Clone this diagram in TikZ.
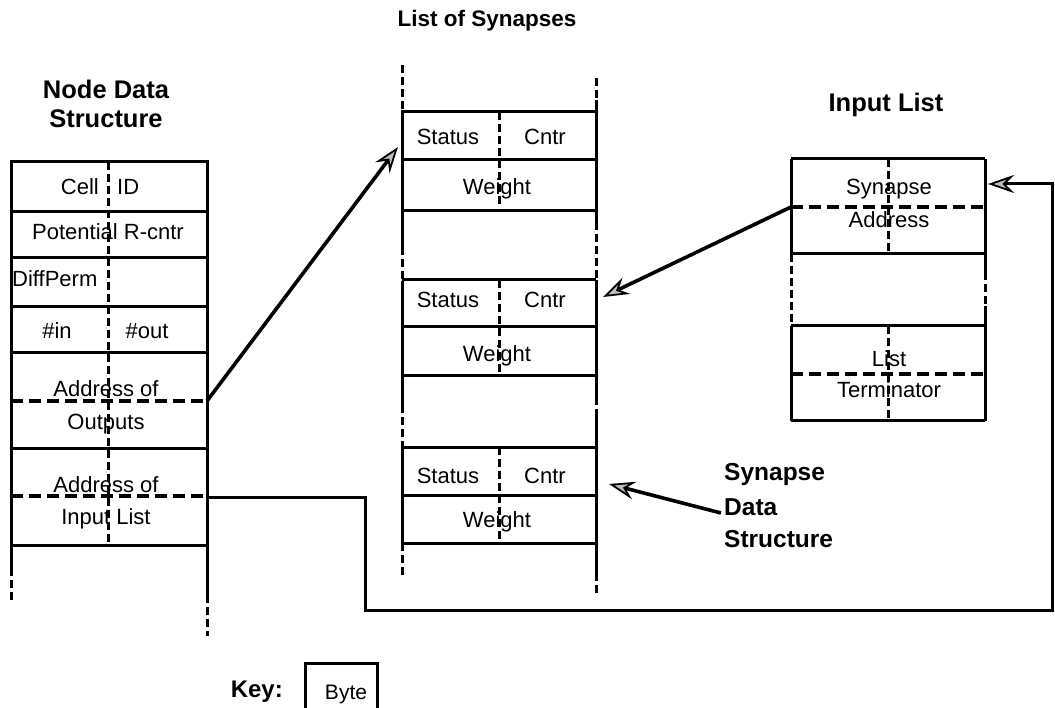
\documentclass[tikz,border=0pt]{standalone}
\usepackage{fontspec}
\usetikzlibrary{arrows.meta}
\newfontfamily\lsans{Liberation Sans}
\newcommand\lbfont{\lsans\fontsize{22}{26}\selectfont}
\newcommand\bytefont{\lsans\fontsize{21}{25}\selectfont}
\newcommand\ttfont{\lsans\bfseries\fontsize{25.5}{30}\selectfont}
\newcommand\ttsmall{\lsans\bfseries\fontsize{22.5}{27}\selectfont}
\newcommand\sdsfont{\lsans\bfseries\fontsize{24.5}{29}\selectfont}
\tikzset{
  box/.style={line width=3pt},
  hdash/.style={line width=3.2pt, dash pattern=on 12pt off 6pt},
  vdash/.style={line width=3pt, dash pattern=on 8pt off 4pt},
  lbl/.style={font=\lbfont, inner sep=0pt, anchor=base},
  ttl/.style={font=\ttfont, inner sep=0pt, anchor=base},
  gtip/.style={-{Stealth[length=26pt,width=18pt,inset=9pt,fill=gray!50,line width=1.8pt]}},
  arr/.style={line width=3.6pt, gtip},
}
\begin{document}
\begin{tikzpicture}[x=1pt,y=-1pt]
\useasboundingbox (0,0) rectangle (1055,708);

% ---------- titles ----------
\node[ttl] (tNode1) at (106,99) {Node Data};
\node[ttl] (tNode2) at (106,128) {Structure};
\node[ttl,font=\ttsmall] (tSyn) at (487,27) {List of Synapses};
\node[ttl] (tIn) at (886,112) {Input List};
\node[ttl,anchor=base west,font=\sdsfont] (sds1) at (724,480) {Synapse};
\node[ttl,anchor=base west,font=\sdsfont] (sds2) at (724,515) {Data};
\node[ttl,anchor=base west,font=\sdsfont] (sds3) at (724,547) {Structure};

% ---------- node data structure ----------
\draw[box] (11,162) rectangle (207,545);
\foreach \yy in {212,258,307,353,448} \draw[box] (11,\yy) -- (207,\yy);
\draw[hdash] (11,401) -- (207,401);
\draw[hdash] (11,496) -- (207,496);
\draw[vdash] (108,162) -- (108,545);
\draw[box] (11,545) -- (11,568);
\draw[vdash] (11,568) -- (11,602);
\draw[box] (207,545) -- (207,595);
\draw[vdash] (207,595) -- (207,636);

\node[lbl,anchor=base east] (cell) at (99,195) {Cell};
\node[lbl,anchor=base west] (cid) at (117,195) {ID};
\node[lbl] (pot) at (108,240) {Potential R-cntr};
\node[lbl,anchor=base west] (diff) at (12,287) {DiffPerm};
\node[lbl] (nin) at (57,339) {\#in};
\node[lbl] (nout) at (147,339) {\#out};
\node[lbl] (ao1) at (106,397) {Address of};
\node[lbl] (ao2) at (106,430) {Outputs};
\node[lbl] (ai1) at (106,492) {Address of};
\node[lbl] (ai2) at (106,524) {Input List};

\coordinate (outAddr) at (207,401);
\coordinate (inAddr) at (207,497);

% ---------- list of synapses ----------
\foreach \yy in {112,160,211,280,327,376,447,495,543} \draw[box] (402,\yy) -- (596,\yy);
% left side
\draw[vdash] (402,65) -- (402,110);
\draw[box] (402,110) -- (402,247);
\draw[vdash] (402,247) -- (402,281);
\draw[box] (402,281) -- (402,405);
\draw[vdash] (402,405) -- (402,447);
\draw[box] (402,447) -- (402,543);
\draw[vdash] (402,543) -- (402,578);
% right side
\draw[vdash] (596,78) -- (596,100);
\draw[box] (596,100) -- (596,222);
\draw[vdash] (596,222) -- (596,280);
\draw[box] (596,280) -- (596,397);
\draw[vdash] (596,397) -- (596,414);
\draw[box] (596,414) -- (596,573);
\draw[vdash] (596,573) -- (596,594);
% dividers
\draw[vdash] (499,112) -- (499,206);
\draw[vdash] (499,280) -- (499,372);
\draw[vdash] (499,447) -- (499,539);

\node[lbl] (st1) at (448,145) {Status};
\node[lbl] (cn1) at (545,145) {Cntr};
\node[lbl] (w1) at (497,195) {Weight};
\node[lbl] (st2) at (448,308) {Status};
\node[lbl] (cn2) at (545,308) {Cntr};
\node[lbl] (w2) at (497,362) {Weight};
\node[lbl] (st3) at (448,483) {Status};
\node[lbl] (cn3) at (545,483) {Cntr};
\node[lbl] (w3) at (497,527) {Weight};

\coordinate (syn1) at (398,147);
\coordinate (syn2) at (603,297);
\coordinate (syn3) at (609,484);

% ---------- input list ----------
\draw[box] (791,159) -- (985,159);
\draw[box] (791,254) -- (985,254);
\draw[box] (791,326) -- (985,326);
\draw[box] (791,421) -- (985,421);
\draw[box] (791,159) -- (791,254);
\draw[vdash] (791,254) -- (791,326);
\draw[box] (791,326) -- (791,421);
\draw[box] (985,159) -- (985,272);
\draw[vdash] (985,272) -- (985,306);
\draw[box] (985,306) -- (985,421);
\draw[hdash] (791,207) -- (985,207);
\draw[hdash] (791,374) -- (985,374);
\draw[vdash] (888,159) -- (888,254);
\draw[vdash] (888,326) -- (888,421);

\node[lbl] (sa1) at (889,195) {Synapse};
\node[lbl] (sa2) at (889,228) {Address};
\node[lbl] (lt1) at (889,367) {List};
\node[lbl] (lt2) at (889,398) {Terminator};

\coordinate (synAddr) at (791,207);
\coordinate (inTop) at (988,184);

% ---------- connectors ----------
\draw[arr] (outAddr) -- (syn1);
\draw[arr] (synAddr) -- (syn2);
\coordinate (sdsStart) at (721,513);
\draw[arr] (sdsStart) -- (syn3);
\coordinate (r1) at (365,497);
\coordinate (r2) at (365,610);
\coordinate (r3) at (1052,610);
\coordinate (r4) at (1052,184);
\draw[line width=3pt, gtip]
  (inAddr) -- (r1) -- (r2) -- (r3) -- (r4) -- (inTop);

% ---------- key ----------
\node[ttl,anchor=base east,font=\lsans\bfseries\fontsize{24}{28}\selectfont] (key) at (283,697) {Key:};
\coordinate (k1) at (305,708);
\coordinate (k2) at (305,663);
\coordinate (k3) at (377,663);
\coordinate (k4) at (377,708);
\draw[box] (k1) -- (k2) -- (k3) -- (k4);
\node[lbl,font=\bytefont] (byte) at (346,699) {Byte};
\end{tikzpicture}
\end{document}
